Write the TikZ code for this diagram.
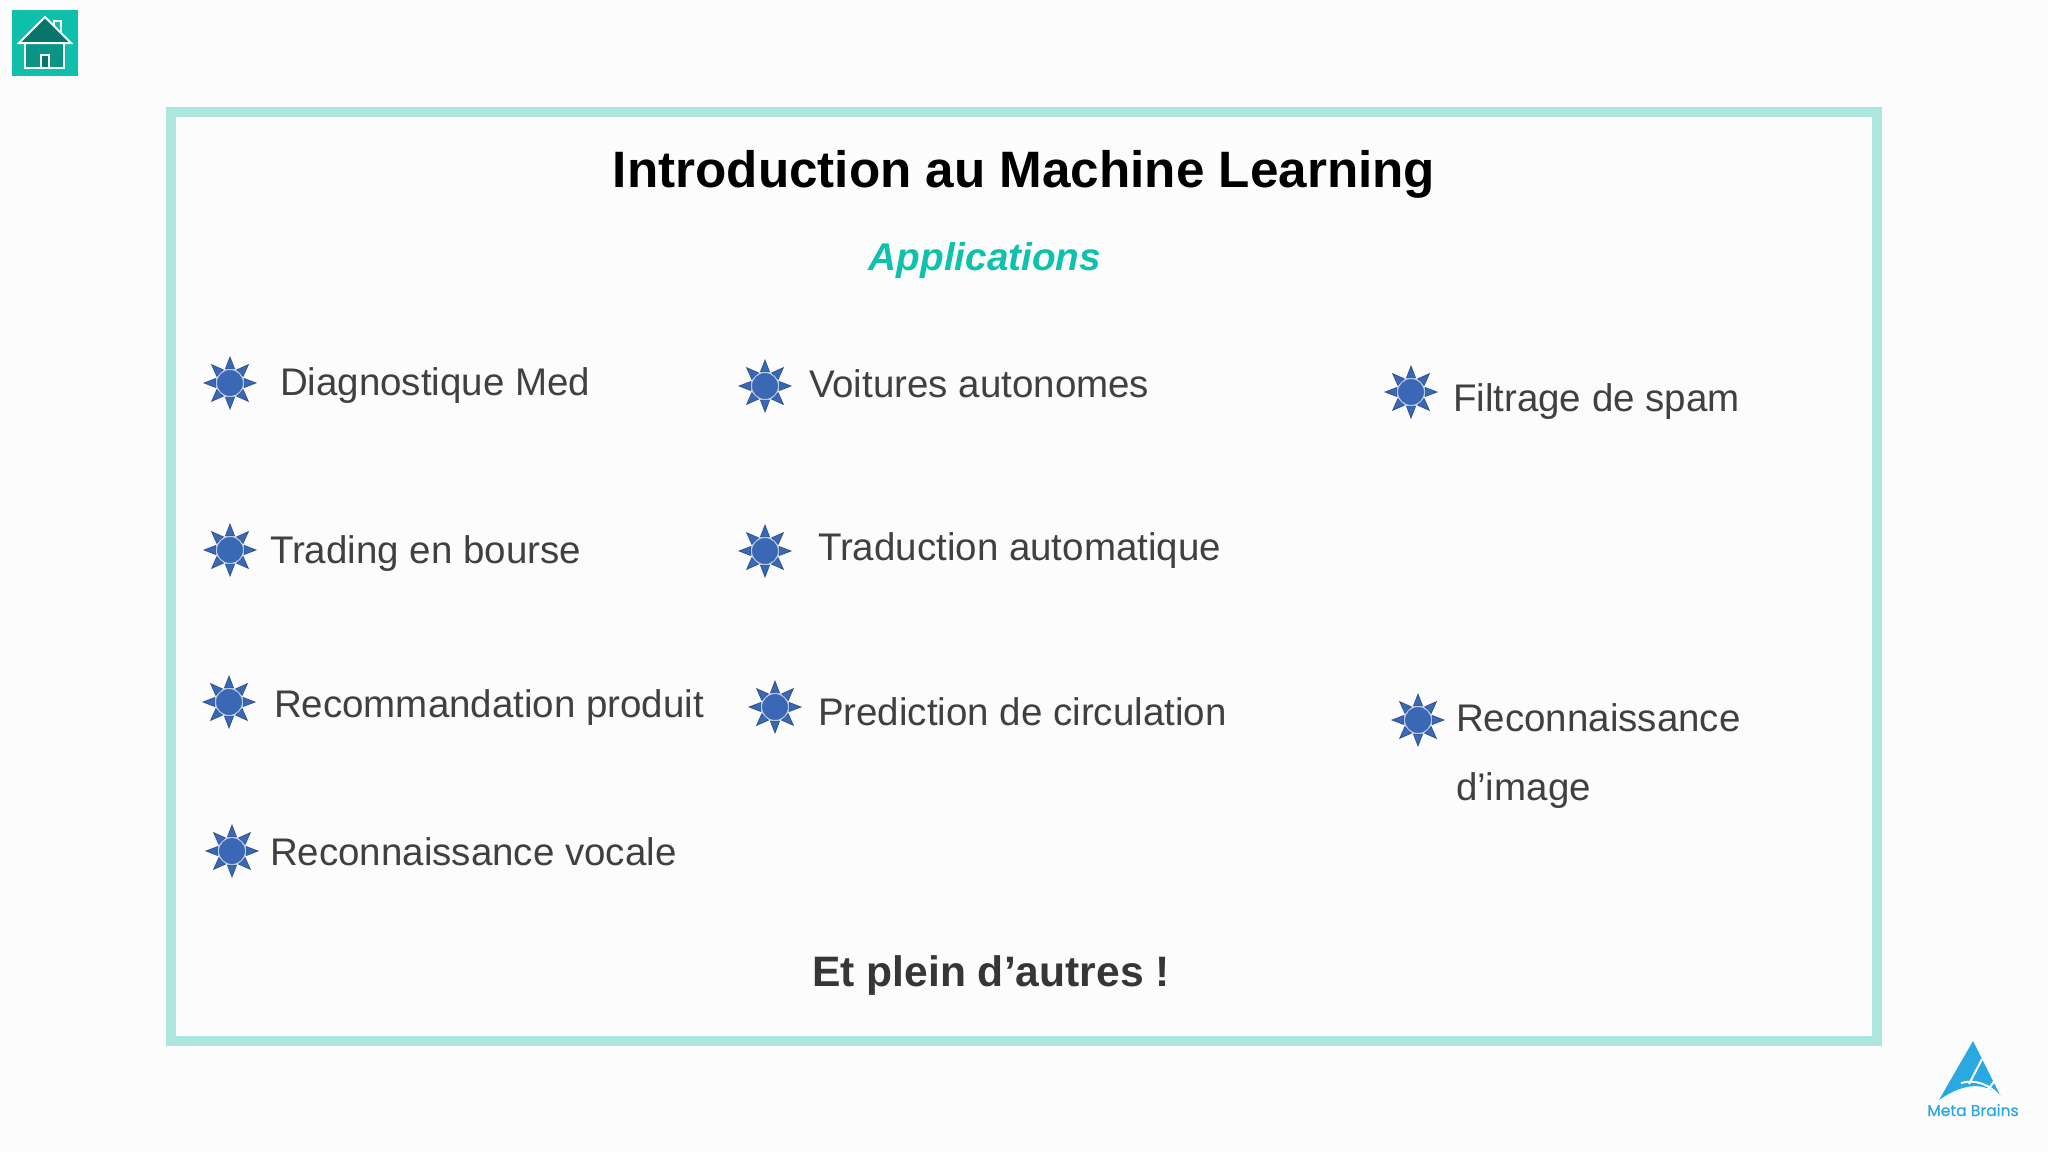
\documentclass[tikz,border=0pt]{standalone}
\usepackage{fontspec}
\setmainfont{Liberation Sans}
\newfontfamily\logofont[FakeBold=0.6]{Poppins}
\definecolor{pagebg}{HTML}{FCFCFD}
\definecolor{framec}{HTML}{ABE6DF}
\definecolor{tealc}{HTML}{0FBFAC}
\definecolor{roofc}{HTML}{07756A}
\definecolor{housec}{HTML}{0A9486}
\definecolor{appc}{HTML}{0FC0AD}
\definecolor{bodytext}{HTML}{404040}
\definecolor{morec}{HTML}{363636}
\definecolor{starc}{HTML}{3B68B4}
\definecolor{starl}{HTML}{2F528F}
\definecolor{logoc}{HTML}{29A9E0}
\tikzset{
  x=0.5pt,y=-0.5pt,
  item/.style={anchor=base west,inner sep=0pt,outer sep=0pt,font=\fontsize{19.25}{23}\selectfont,text=bodytext},
  starpic/.pic={
    \foreach \a in {0,45,...,315}{
      \fill[starl,line join=miter] (\a-21:14.5) -- (\a:27) -- (\a+21:14.5) -- cycle;
      \fill[starc] (\a-16:15) -- (\a:24) -- (\a+16:15) -- cycle;
    }
    \fill[starc,draw=white!65!starc,line width=0.5pt] (0,0) circle (13.5);
  }
}
\begin{document}
\begin{tikzpicture}
\useasboundingbox (0,0) rectangle (2048,1152);
\fill[pagebg] (0,0) rectangle (2048,1152);
% frame
\draw[framec,line width=5pt] (171,112) rectangle (1877,1041);
% home icon
\fill[tealc] (12,10) rectangle (78,76);
\fill[housec,draw=white,line width=1pt] (25,43) rectangle (64,68);
\fill[roofc,draw=white,line width=1pt,line join=miter] (19,43) -- (45,17) -- (71,43) -- cycle;
\fill[roofc,draw=white,line width=1pt] (41,55) rectangle (49,68);
\draw[white,line width=1pt] (54,26) -- (54,21) -- (61,21) -- (61,33);
% titles
\node[anchor=base,inner sep=0pt,font=\fontsize{25.6}{30}\selectfont\bfseries,text=black] (title) at (1024,187) {Introduction au Machine Learning};
\node[anchor=base,inner sep=0pt,font=\fontsize{19.35}{24}\selectfont\bfseries\itshape,text=appc] (apps) at (985,270) {Applications};
\node[anchor=base,inner sep=0pt,font=\fontsize{21.3}{26}\selectfont\bfseries,text=morec] (more) at (991,986) {Et plein d’autres !};
% stars
\path (230,383) pic {starpic};
\path (765,386) pic {starpic};
\path (1411,392) pic {starpic};
\path (230,550) pic {starpic};
\path (765,551) pic {starpic};
\path (229,702) pic {starpic};
\path (775,707) pic {starpic};
\path (1418,720) pic {starpic};
\path (232,851) pic {starpic};
% items
\node[item] (a1) at (280,395) {Diagnostique Med};
\node[item] (a2) at (270,563) {Trading en bourse};
\node[item] (a3) at (274,717) {Recommandation produit};
\node[item] (a4) at (270,865) {Reconnaissance vocale};
\node[item] (b1) at (809,397) {Voitures autonomes};
\node[item] (b2) at (818,560) {Traduction automatique};
\node[item] (b3) at (818,725) {Prediction de circulation};
\node[item] (c1) at (1453,411) {Filtrage de spam};
\node[item] (c2) at (1456,731) {Reconnaissance};
\node[item] (c3) at (1456,800) {d’image};
% logo
\fill[logoc] (1973,1041) -- (2001,1097) .. controls (1985,1082) and (1965,1082) .. (1939,1100) -- cycle;
\draw[white,line width=1pt] (1982,1059) -- (1969,1084);
\draw[white,line width=1pt] (1996,1079) -- (1986,1092);
\draw[white,line width=1pt] (1961,1083) .. controls (1975,1079) and (1990,1084) .. (2001,1098);
\node[anchor=base,inner sep=0pt,font=\fontsize{7.8}{10}\logofont,text=logoc] (logo) at (1973,1116) {Meta Brains};
\end{tikzpicture}
\end{document}
